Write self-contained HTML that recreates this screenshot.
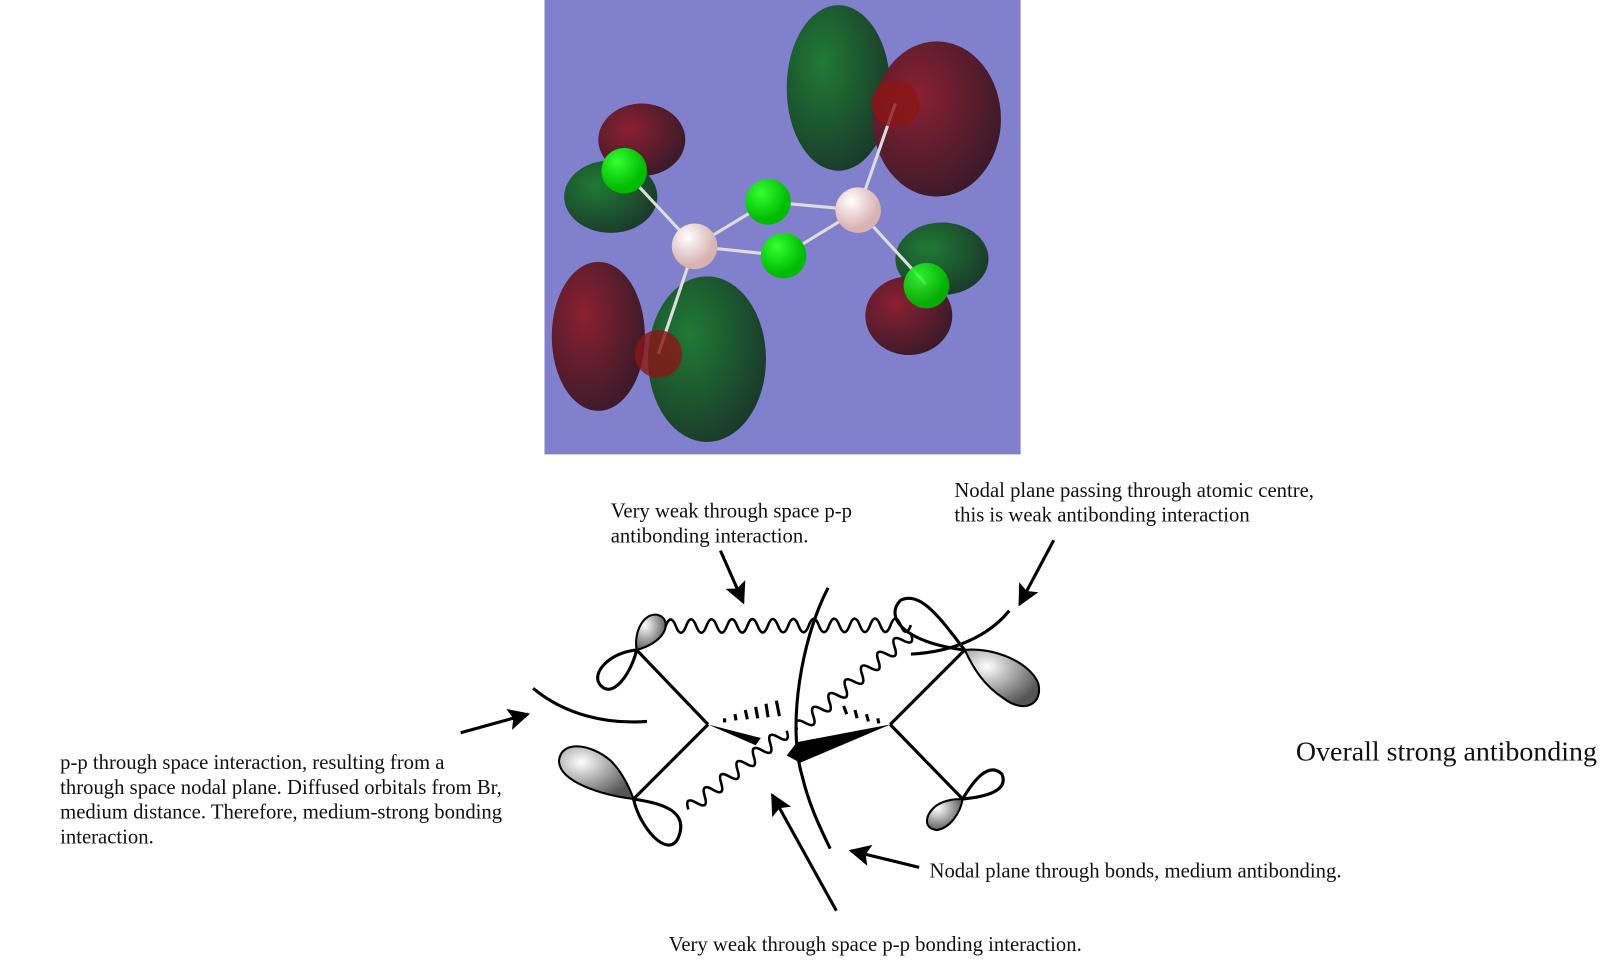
<!DOCTYPE html>
<html><head><meta charset="utf-8"><style>
html,body{margin:0;padding:0;background:#fff;width:1621px;height:976px;overflow:hidden}
svg{display:block}
text{font-family:"Liberation Serif",serif;font-size:20px;fill:#111}
</style></head><body>
<svg id="s" width="1621" height="976" viewBox="0 0 1566 943" xmlns="http://www.w3.org/2000/svg">
<defs>
<radialGradient id="red" cx="35%" cy="35%" r="70%"><stop offset="0" stop-color="#8a2030"/><stop offset="1" stop-color="#3a1a2a"/></radialGradient>
<radialGradient id="grn" cx="35%" cy="35%" r="70%"><stop offset="0" stop-color="#1f7a35"/><stop offset="1" stop-color="#1a3a2a"/></radialGradient>
<radialGradient id="lg" cx="35%" cy="30%" r="60%"><stop offset="0" stop-color="#3f3"/><stop offset="1" stop-color="#0b0"/></radialGradient>
<radialGradient id="pk" cx="35%" cy="30%" r="60%"><stop offset="0" stop-color="#fff"/><stop offset="1" stop-color="#d9b3b3"/></radialGradient>
<radialGradient id="gy" cx="30%" cy="30%" r="75%"><stop offset="0" stop-color="#fff"/><stop offset="1" stop-color="#555"/></radialGradient>
<marker id="ah" viewBox="0 0 10 10" refX="9" refY="5" markerWidth="7" markerHeight="7" orient="auto-start-reverse"><path d="M0,0 L10,5 L0,10 L2,5 z" fill="#000"/></marker>
</defs>
<rect x="526" y="0" width="460" height="439" fill="#8080cc"/>
<ellipse cx="810" cy="85" rx="50" ry="80" fill="url(#grn)"/>
<ellipse cx="905" cy="115" rx="62" ry="75" fill="url(#red)"/>
<ellipse cx="620" cy="135" rx="42" ry="35" fill="url(#red)"/>
<ellipse cx="590" cy="190" rx="45" ry="35" fill="url(#grn)"/>
<ellipse cx="578" cy="325" rx="45" ry="72" fill="url(#red)"/>
<ellipse cx="683" cy="347" rx="57" ry="80" fill="url(#grn)"/>
<ellipse cx="910" cy="250" rx="45" ry="35" fill="url(#grn)"/>
<ellipse cx="878" cy="305" rx="42" ry="38" fill="url(#red)"/>
<g stroke="#ddd" stroke-width="3">
<line x1="603" y1="165" x2="671" y2="238"/><line x1="671" y1="238" x2="742" y2="195"/><line x1="671" y1="238" x2="757" y2="247"/>
<line x1="742" y1="195" x2="829" y2="203"/><line x1="757" y1="247" x2="829" y2="203"/><line x1="829" y1="203" x2="865" y2="100"/>
<line x1="829" y1="203" x2="895" y2="275"/><line x1="671" y1="238" x2="636" y2="342"/></g>
<circle cx="603" cy="165" r="22" fill="url(#lg)"/>
<circle cx="895" cy="276" r="22" fill="url(#lg)" opacity=".9"/>
<circle cx="865" cy="100" r="23" fill="#8a1515" opacity=".8"/>
<circle cx="636" cy="342" r="23" fill="#8a1515" opacity=".8"/>
<circle cx="742" cy="195" r="22" fill="url(#lg)"/>
<circle cx="757" cy="247" r="22" fill="url(#lg)"/>
<circle cx="671" cy="238" r="22" fill="url(#pk)"/>
<circle cx="829" cy="203" r="22" fill="url(#pk)"/>

<g fill="none" stroke="#000" stroke-width="3">
<line x1="684" y1="700" x2="615" y2="628"/><line x1="684" y1="700" x2="612" y2="772"/>
<line x1="860" y1="700" x2="932" y2="628"/><line x1="860" y1="700" x2="930" y2="772"/>
<path d="M615,628 C590,630 570,650 580,662 C592,676 610,650 615,628"/>
<path d="M612,772 C630,775 668,780 655,810 C645,830 618,800 612,772"/>
<path d="M932,628 C910,600 890,570 870,580 C855,595 870,620 932,628"/>
<path d="M930,772 C940,755 955,735 968,748 C975,765 950,770 930,772"/>
<path d="M800,568 C775,615 760,700 775,750 C782,780 795,805 802,820"/>
<path d="M515,665 C545,690 585,700 625,697"/>
<path d="M880,632 C920,630 955,615 975,590"/>
</g>
<g stroke="#000" stroke-width="2" fill="url(#gy)">
<path d="M615,628 C612,610 622,592 635,594 C650,598 645,620 615,628z"/>
<path d="M612,772 C580,768 540,755 540,735 C542,715 570,718 590,735 C600,745 608,760 612,772z"/>
<path d="M932,628 C960,625 995,640 1003,660 C1008,680 990,690 970,675 C950,662 940,645 932,628z"/>
<path d="M930,772 C928,785 918,800 905,802 C890,800 895,785 905,778 C915,772 925,772 930,772z"/>
</g>
<path d="M684,700 L735,713 L730,720z" fill="#000"/>
<path d="M860,700 L770,717 L760,730 L773,737z" fill="#000"/>
<g stroke="#000" stroke-width="3">
<line x1="700" y1="694" x2="700" y2="698"/><line x1="710" y1="690" x2="711" y2="696"/><line x1="720" y1="686" x2="722" y2="695"/><line x1="730" y1="683" x2="732" y2="694"/><line x1="740" y1="680" x2="742" y2="693"/><line x1="750" y1="677" x2="753" y2="692"/>
<line x1="815" y1="682" x2="818" y2="690"/><line x1="826" y1="686" x2="828" y2="694"/><line x1="837" y1="690" x2="839" y2="697"/><line x1="848" y1="694" x2="849" y2="699"/>
</g>
<g id="waves" fill="none" stroke="#000" stroke-width="2.5"></g>
<g stroke="#000" stroke-width="3" marker-end="url(#ah)" fill="none">
<line x1="696" y1="532" x2="718" y2="582"/>
<line x1="1018" y1="522" x2="985" y2="584"/>
<line x1="445" y1="708" x2="510" y2="690"/>
<line x1="808" y1="880" x2="746" y2="768"/>
<line x1="888" y1="838" x2="822" y2="822"/>
</g>
<text x="590" y="500">Very weak through space p-p</text>
<text x="590" y="524">antibonding interaction.</text>
<text x="922" y="480">Nodal plane passing through atomic centre,</text>
<text x="922" y="504">this is weak antibonding interaction</text>
<text x="58" y="743">p-p through space interaction, resulting from a</text>
<text x="58" y="767">through space nodal plane. Diffused orbitals from Br,</text>
<text x="58" y="791">medium distance. Therefore, medium-strong bonding</text>
<text x="58" y="815">interaction.</text>
<text x="898" y="848">Nodal plane through bonds, medium antibonding.</text>
<text x="646" y="919">Very weak through space p-p bonding interaction.</text>
<text x="1252" y="735" style="font-size:27px">Overall strong antibonding</text>
</svg>
<script>
function wave(x1,y1,x2,y2,n,a){var dx=x2-x1,dy=y2-y1,L=Math.hypot(dx,dy),ux=dx/L,uy=dy/L,px=-uy,py=ux,d="M"+x1+","+y1,seg=L/n;
for(var i=0;i<n;i++){var s=a*(i%2?1:-1);var cx=x1+ux*seg*(i+.5)+px*s*1.3,cy=y1+uy*seg*(i+.5)+py*s*1.3,ex=x1+ux*seg*(i+1),ey=y1+uy*seg*(i+1);d+=" Q"+cx.toFixed(1)+","+cy.toFixed(1)+" "+ex.toFixed(1)+","+ey.toFixed(1);}
var p=document.createElementNS("http://www.w3.org/2000/svg","path");p.setAttribute("d",d);document.getElementById("waves").appendChild(p);}
wave(643,605,880,604,24,10);
wave(770,705,880,612,14,10);
wave(665,782,760,706,12,10);
</script>
</body></html>
